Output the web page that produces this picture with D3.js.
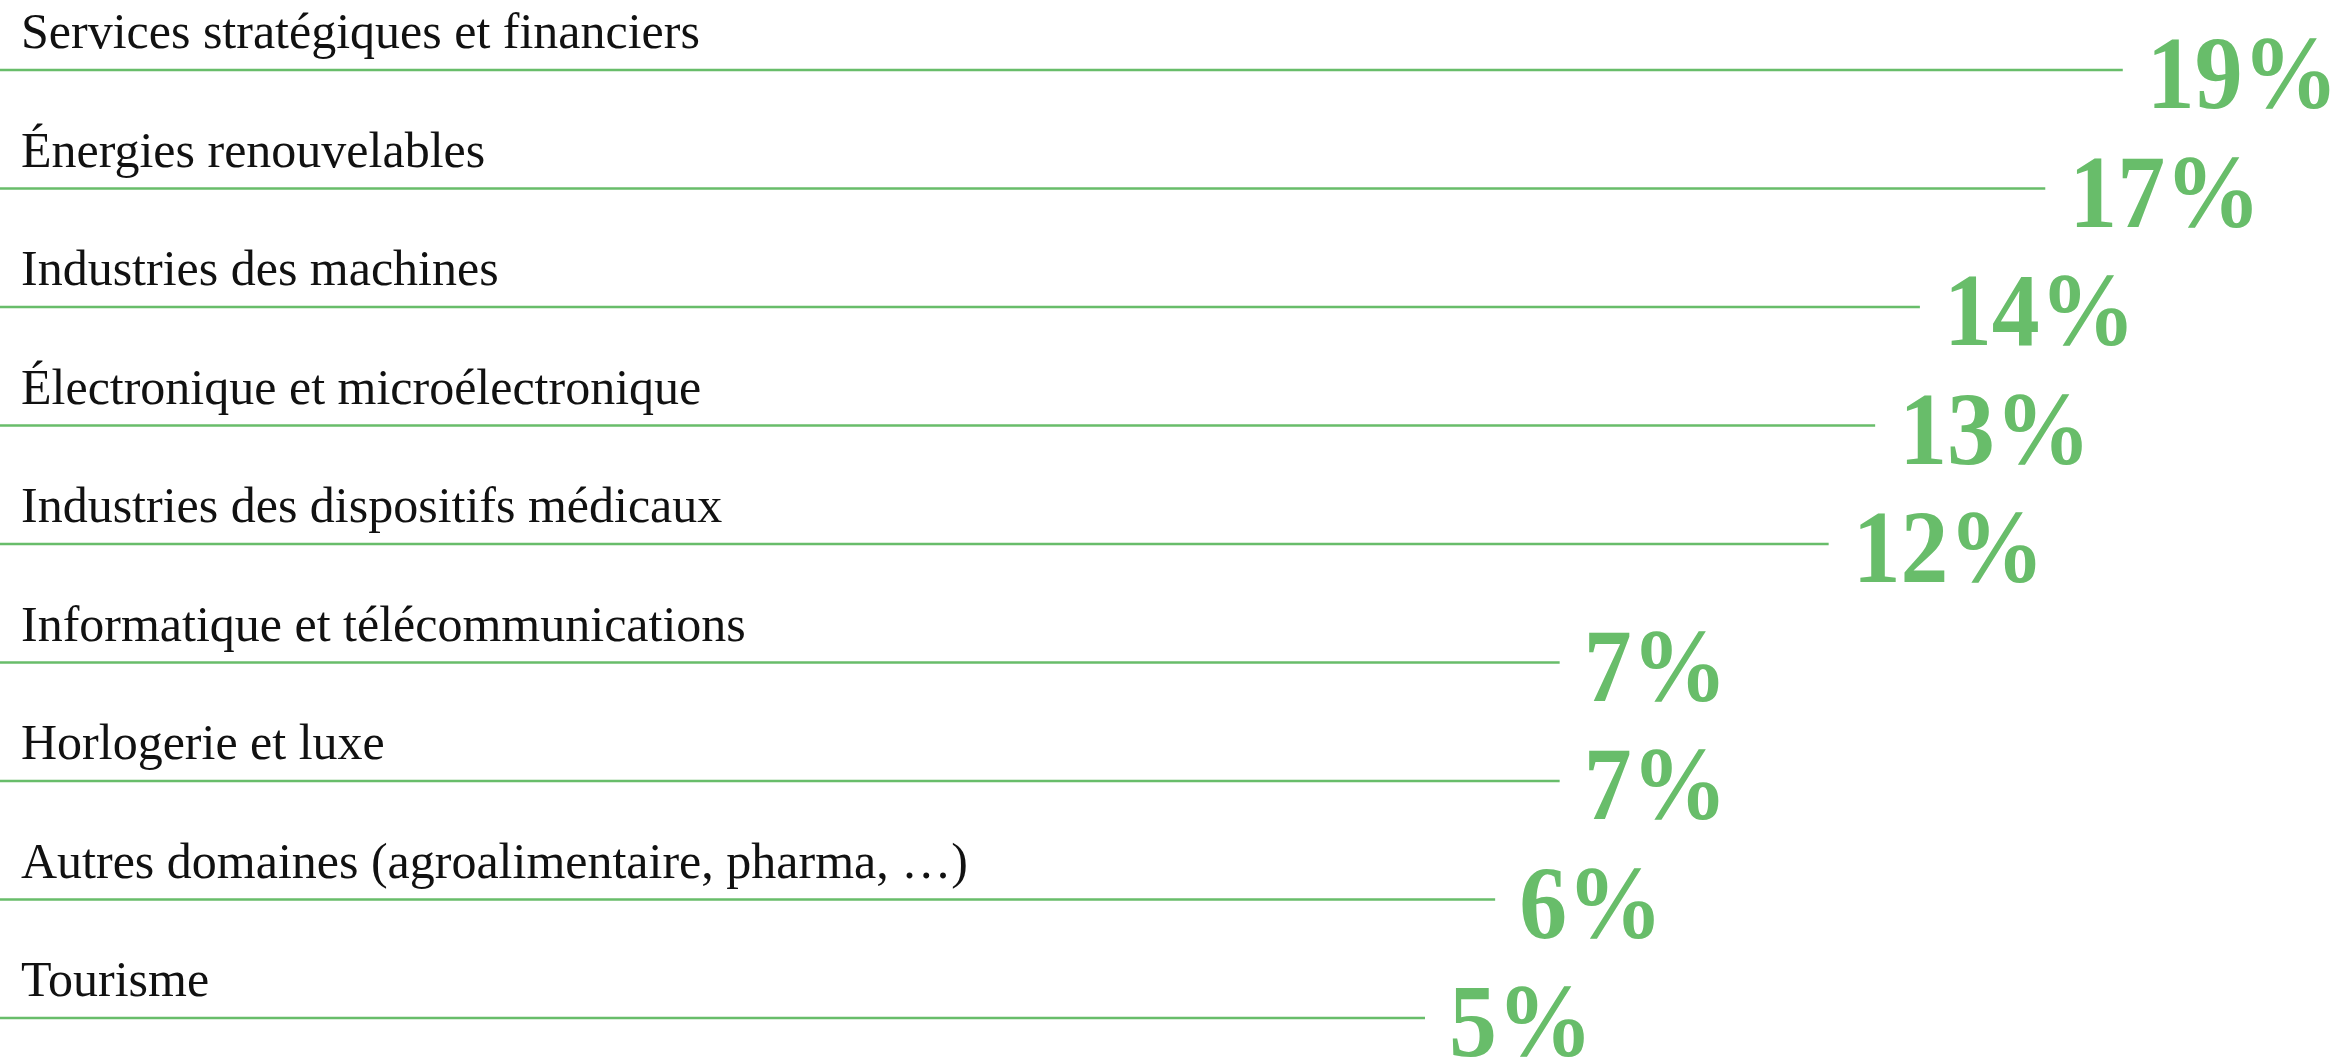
<!DOCTYPE html>
<html>
<head>
<meta charset="utf-8">
<script src="https://cdn.jsdelivr.net/npm/d3@7"></script>
<style>
  body { margin: 0; background: #fff; }
  svg { display: block; }
</style>
</head>
<body>
<svg id="chart"></svg>
<script>
// Sectors and their share (%)
const sectors = [
  "Services stratégiques et financiers",
  "Énergies renouvelables",
  "Industries des machines",
  "Électronique et microélectronique",
  "Industries des dispositifs médicaux",
  "Informatique et télécommunications",
  "Horlogerie et luxe",
  "Autres domaines (agroalimentaire, pharma, …)",
  "Tourisme"
];
const shares = [19, 17, 14, 13, 12, 7, 7, 6, 5];

const data = sectors.map((s, i) => ({ sector: s, value: shares[i] }));

class LeaderChart {
  constructor(_config, _data) {
    this.config = {
      parentElement: _config.parentElement,
      containerWidth: _config.containerWidth || 2341,
      containerHeight: _config.containerHeight || 1057,
      margin: { top: 70, bottom: 39, left: 0, right: 0 }
    }
    this.data = _data;
    this.initVis();
  }

  initVis() {
    let vis = this;
    const green = '#68bd6a';

    vis.svg = d3.select(vis.config.parentElement)
        .attr('width', vis.config.containerWidth)
        .attr('height', vis.config.containerHeight);

    // one row per sector
    vis.yScale = d3.scalePoint()
        .domain(vis.data.map(d => d.sector))
        .range([vis.config.margin.top, vis.config.containerHeight - vis.config.margin.bottom]);

    // end of each leader line (lengths grow roughly with the square root of the share)
    vis.xScale = d3.scaleSqrt()
        .domain([0, 20])
        .range([690, 2160]);

    const rows = vis.svg.selectAll('.row')
        .data(vis.data)
      .join('g')
        .attr('class', 'row')
        .attr('transform', d => `translate(0,${vis.yScale(d.sector)})`);

    rows.append('line')
        .attr('x1', 0)
        .attr('x2', d => vis.xScale(d.value))
        .attr('stroke', green)
        .attr('stroke-width', 2.5);

    rows.append('text')
        .attr('x', 21)
        .attr('y', -22)
        .attr('font-family', '"Liberation Serif", serif')
        .style('font-size', '50px')
        .attr('fill', '#111')
        .text(d => d.sector);

    rows.append('text')
        .attr('transform', d => `translate(${vis.xScale(d.value) + 24},38) scale(0.93,1)`)
        .attr('font-family', '"Liberation Serif", serif')
        .attr('font-weight', 'bold')
        .style('font-size', '103px')
        .attr('fill', green)
        .text(d => d.value + '%');
  }
}

new LeaderChart({ parentElement: '#chart' }, data);
</script>
</body>
</html>
